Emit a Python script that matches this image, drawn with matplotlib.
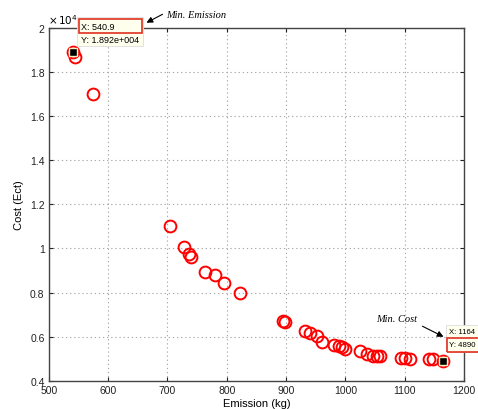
import matplotlib
matplotlib.use("Agg")
import matplotlib.pyplot as plt
from matplotlib.patches import Rectangle

plt.rcParams['font.family'] = ['Liberation Sans', 'DejaVu Sans']

# Pareto front: emission (kg) vs cost (x 1e4)
emission = [540.9, 545, 574, 705, 727.6, 736, 739.5, 764, 780.4, 794.5, 822,
            894, 898.5, 932, 940.6, 951.8, 960.9, 980, 988.4, 994, 998.5,
            1023.8, 1036, 1047, 1053, 1059, 1094, 1100.6, 1109, 1140, 1147, 1164]
cost = [1.892, 1.867, 1.702, 1.100, 1.006, 0.976, 0.962, 0.894, 0.879, 0.843, 0.799,
        0.672, 0.666, 0.624, 0.616, 0.604, 0.577, 0.563, 0.559, 0.552, 0.544,
        0.536, 0.521, 0.513, 0.510, 0.510, 0.504, 0.504, 0.498, 0.497, 0.497, 0.489]

min_emission = (540.9, 1.892)
min_cost = (1164, 0.489)

xticks = [500, 600, 700, 800, 900, 1000, 1100, 1200]
yticks = [0.4, 0.6, 0.8, 1.0, 1.2, 1.4, 1.6, 1.8, 2.0]
ytick_labels = ['0.4', '0.6', '0.8', '1', '1.2', '1.4', '1.6', '1.8', '2']

fig = plt.figure(figsize=(4.78, 4.10), dpi=100)
ax = fig.add_axes([0.102, 0.069, 0.869, 0.860])

ax.plot(emission, cost, linestyle='none', marker='o', markersize=8.5,
        markerfacecolor='none', markeredgecolor='#ff0000', markeredgewidth=1.4)

# data-tip markers
for px, py in (min_emission, min_cost):
    ax.plot([px], [py], linestyle='none', marker='s', markersize=5.5,
            markerfacecolor='black', markeredgecolor='#f5f0c0', markeredgewidth=1.0,
            zorder=5)

ax.set_xlim(500, 1200)
ax.set_ylim(0.4, 2.0)
ax.set_xticks(xticks)
ax.set_yticks(yticks)
ax.set_yticklabels(ytick_labels)
ax.tick_params(direction='in', top=True, right=True, length=3, labelsize=7.5,
               colors='#222222', pad=3)
ax.grid(True, linestyle=(0, (1.2, 2.5)), color='#aaaaaa', linewidth=0.8)
for s in ax.spines.values():
    s.set_color('#444444')
    s.set_linewidth(1.0)

ax.set_xlabel('Emission (kg)', fontsize=8, labelpad=2)
ax.set_ylabel('Cost (Ect)', fontsize=8, labelpad=4)

fig.text(0.102 - 0.002, 0.935, r'$\times\,10^{4}$', fontsize=7.5, ha='left', va='bottom')

# top data tip box (figure coordinates)
def fx(px):
    return px / 478.0
def fy(py):
    return 1 - py / 410.0

box = Rectangle((fx(77), fy(47)), fx(143) - fx(77), fy(18) - fy(47),
                transform=fig.transFigure, facecolor='#ffffee', edgecolor='#dddddd',
                linewidth=0.6, zorder=10)
fig.patches.append(box)
rbox = Rectangle((fx(79), fy(34)), fx(142) - fx(79), fy(20) - fy(34),
                 transform=fig.transFigure, facecolor='none', edgecolor='#e03020',
                 linewidth=1.2, zorder=11)
fig.patches.append(rbox)
fig.text(fx(81), fy(27), 'X: 540.9', fontsize=6.5, va='center', ha='left', zorder=12)
fig.text(fx(81), fy(40.5), 'Y: 1.892e+004', fontsize=6.5, va='center', ha='left', zorder=12)

# bottom data tip box (runs to the figure edge)
box2 = Rectangle((fx(446), fy(353)), fx(490) - fx(446), fy(326) - fy(353),
                 transform=fig.transFigure, facecolor='#ffffee', edgecolor='#dddddd',
                 linewidth=0.6, zorder=10)
fig.patches.append(box2)
rbox2 = Rectangle((fx(447), fy(353)), fx(490) - fx(447), fy(339) - fy(353),
                  transform=fig.transFigure, facecolor='none', edgecolor='#e03020',
                  linewidth=1.2, zorder=11)
fig.patches.append(rbox2)
fig.text(fx(449), fy(333), 'X: 1164', fontsize=5.6, va='center', ha='left', zorder=12)
fig.text(fx(449), fy(346), 'Y: 4890', fontsize=5.6, va='center', ha='left', zorder=12)

# annotations
fig.text(fx(166), fy(15), 'Min. Emission', fontsize=7.5, style='italic',
         family=['Liberation Serif', 'DejaVu Serif'], ha='left', va='center')
ax.annotate('', xy=(fx(144), fy(25)), xycoords='figure fraction',
            xytext=(fx(165), fy(14)), textcoords='figure fraction',
            arrowprops=dict(arrowstyle='-|>', color='black', lw=0.8,
                            mutation_scale=9), annotation_clip=False)

fig.text(fx(376), fy(320), 'Min. Cost', fontsize=7.5, style='italic',
         family=['Liberation Serif', 'DejaVu Serif'], ha='left', va='center')
ax.annotate('', xy=(fx(446), fy(339)), xycoords='figure fraction',
            xytext=(fx(420), fy(326)), textcoords='figure fraction',
            arrowprops=dict(arrowstyle='-|>', color='black', lw=0.8,
                            mutation_scale=9), annotation_clip=False)

fig.savefig('out.png', dpi=100)
